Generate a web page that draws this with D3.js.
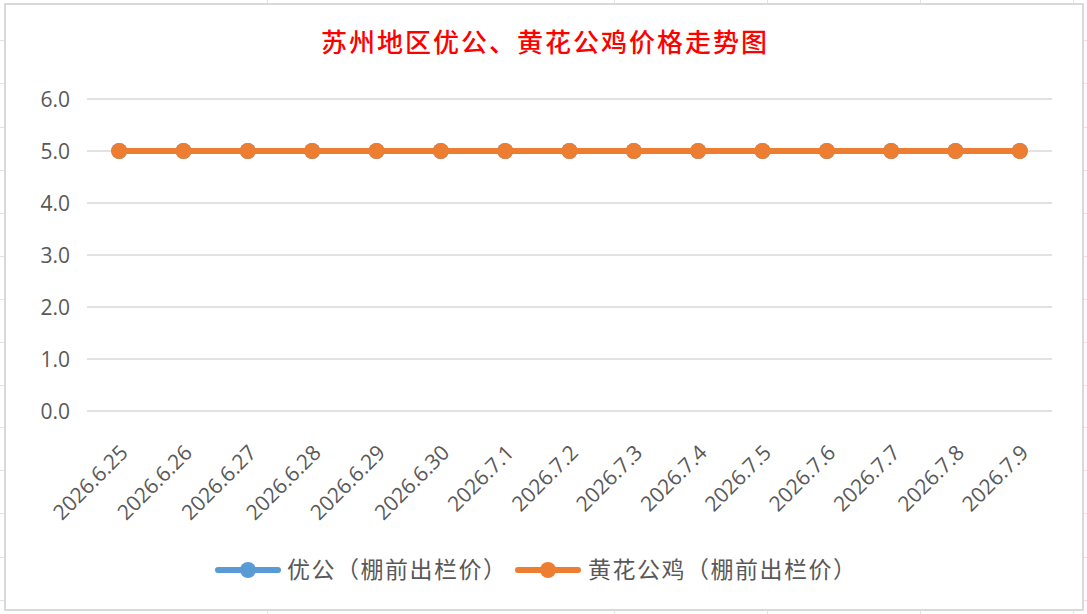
<!DOCTYPE html>
<html><head><meta charset="utf-8">
<script src="https://cdn.jsdelivr.net/npm/d3@7/dist/d3.min.js"></script>
<style>html,body{margin:0;padding:0;background:#fff;}svg{display:block;}</style>
</head><body>
<svg id="c" width="1087" height="614"></svg>
<script>
const title = "苏州地区优公、黄花公鸡价格走势图";
const dates = ["2026.6.25","2026.6.26","2026.6.27","2026.6.28","2026.6.29","2026.6.30","2026.7.1","2026.7.2","2026.7.3","2026.7.4","2026.7.5","2026.7.6","2026.7.7","2026.7.8","2026.7.9"];
const youGong = [5.0,5.0,5.0,5.0,5.0,5.0,5.0,5.0,5.0,5.0,5.0,5.0,5.0,5.0,5.0];
const huangHua = [5.0,5.0,5.0,5.0,5.0,5.0,5.0,5.0,5.0,5.0,5.0,5.0,5.0,5.0,5.0];
const seriesNames = ["优公（棚前出栏价）","黄花公鸡（棚前出栏价）"];
const yTicks = [0,1,2,3,4,5,6];

const W = 1087, H = 614;
const svg = d3.select("#c");
const colors = ["#5B9BD5","#ED7D31"];

// spreadsheet background grid (decorative)
const bg = svg.append("g").attr("stroke","#e2e2e2").attr("stroke-width",1);
[40,83,127,170,213,256,299,342,385,427,470,513,557,600].forEach(y=>{
  bg.append("line").attr("x1",0).attr("x2",W).attr("y1",y+0.5).attr("y2",y+0.5);
});
[267,614,767,920,1073].forEach(x=>{
  bg.append("line").attr("x1",x+0.5).attr("x2",x+0.5).attr("y1",0).attr("y2",H);
});
// chart area
svg.append("rect").attr("x",5).attr("y",4).attr("width",1078).attr("height",606)
  .attr("fill","#fff").attr("stroke","#d9d9d9").attr("stroke-width",2);

const plot = {left:87, right:1052, top:99, bottom:411};
const x = d3.scaleBand().domain(dates).range([plot.left, plot.right]);
const y = d3.scaleLinear().domain([0,6]).range([plot.bottom, plot.top]);

// gridlines
svg.append("g").selectAll("line").data(yTicks).join("line")
  .attr("x1",plot.left).attr("x2",plot.right)
  .attr("y1",d=>y(d)).attr("y2",d=>y(d))
  .attr("stroke","#d9d9d9").attr("stroke-width",1.5);

// y axis labels
const yAxis = d3.axisLeft(y).tickValues(yTicks).tickFormat(d3.format(".1f")).tickSize(0).tickPadding(0);
const ya = svg.append("g").attr("transform",`translate(70,0)`).call(yAxis);
ya.select(".domain").remove();
ya.selectAll("text").attr("font-family","'Open Sans',sans-serif").attr("font-size",21)
  .attr("fill","#595959").attr("dy","0.36em");

// x axis labels
const xAxis = d3.axisBottom(x).tickSize(0).tickPadding(0);
const xa = svg.append("g").attr("transform",`translate(0,${plot.bottom})`).call(xAxis);
xa.select(".domain").remove();
xa.selectAll(".tick text")
  .attr("font-family","'Open Sans',sans-serif").attr("font-size",21).attr("fill","#595959")
  .attr("text-anchor","end").attr("y",0).attr("dy",0)
  .attr("transform","translate(10,43) rotate(-45)");

// series
const xc = d => x(d) + x.bandwidth()/2;
[youGong, huangHua].forEach((vals,i)=>{
  const line = d3.line().x((d,j)=>xc(dates[j])).y(d=>y(d));
  svg.append("path").datum(vals).attr("d",line).attr("fill","none")
    .attr("stroke",colors[i]).attr("stroke-width",6).attr("stroke-linecap","round");
  svg.append("g").selectAll("circle").data(vals).join("circle")
    .attr("cx",(d,j)=>xc(dates[j])).attr("cy",d=>y(d)).attr("r",8).attr("fill",colors[i]);
});

// title
svg.append("text").attr("x",545).attr("y",52).attr("text-anchor","middle")
  .attr("font-family","'Noto Sans CJK SC',sans-serif").attr("font-size",26).attr("font-weight",500)
  .attr("letter-spacing",2).attr("fill","#FF0000").text(title);

// legend
const legendItems = [{x:218, tx:287},{x:518, tx:588}];
legendItems.forEach((it,i)=>{
  const g = svg.append("g");
  g.append("line").attr("x1",it.x).attr("x2",it.x+60).attr("y1",570).attr("y2",570)
    .attr("stroke",colors[i]).attr("stroke-width",6).attr("stroke-linecap","round");
  g.append("circle").attr("cx",it.x+30).attr("cy",570).attr("r",8).attr("fill",colors[i]);
  g.append("text").attr("x",it.tx).attr("y",570).attr("dy","0.36em")
    .attr("font-family","'Noto Sans CJK SC',sans-serif").attr("font-size",23)
    .attr("letter-spacing",1.5).attr("fill","#595959").text(seriesNames[i]);
});
</script>
</body></html>
